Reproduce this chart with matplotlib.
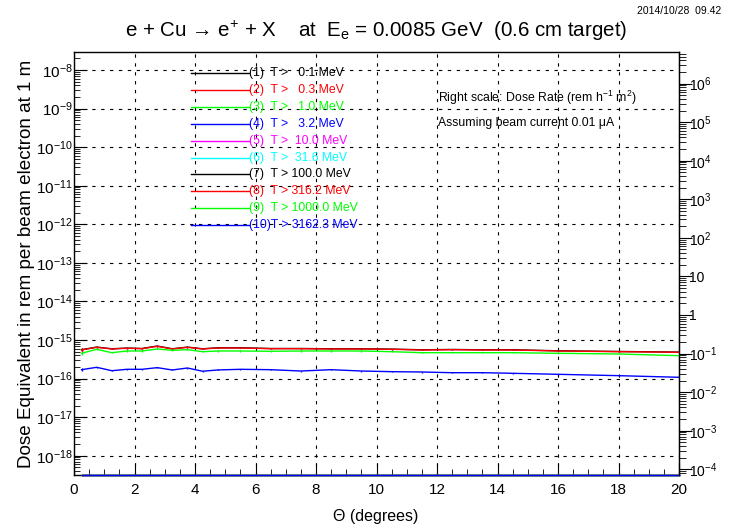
import numpy as np
import matplotlib
matplotlib.use("Agg")
from matplotlib import pyplot as plt
from matplotlib.ticker import FixedLocator, MultipleLocator, FuncFormatter, NullFormatter

plt.rcParams['font.family'] = ['Liberation Sans', 'DejaVu Sans']
plt.rcParams['mathtext.default'] = 'regular'

# angulos (centros de bin, grados)
theta = [0.25, 0.75, 1.25, 1.75, 2.25, 2.75, 3.25, 3.75, 4.25, 4.75,
         5.5, 6.5, 7.5, 8.5, 9.5, 10.5, 11.5, 12.5, 13.5, 14.5,
         16.0, 18.0, 20.0]

# dosis por electron (rem) para cada umbral
dose_01 = [5.60e-16, 6.55e-16, 5.92e-16, 6.18e-16, 6.02e-16, 6.98e-16, 5.92e-16, 6.55e-16,
           5.92e-16, 6.28e-16, 6.28e-16, 6.02e-16, 6.02e-16, 5.92e-16, 5.92e-16, 5.80e-16,
           5.58e-16, 5.68e-16, 5.58e-16, 5.58e-16, 5.25e-16, 5.04e-16, 4.86e-16]
dose_03 = [5.51e-16, 6.47e-16, 5.85e-16, 6.10e-16, 5.95e-16, 6.87e-16, 5.85e-16, 6.47e-16,
           5.85e-16, 6.21e-16, 6.21e-16, 5.95e-16, 5.95e-16, 5.85e-16, 5.85e-16, 5.74e-16,
           5.51e-16, 5.61e-16, 5.51e-16, 5.51e-16, 5.19e-16, 4.98e-16, 4.80e-16]
dose_10 = [4.52e-16, 5.74e-16, 4.69e-16, 5.19e-16, 5.19e-16, 5.85e-16, 5.41e-16, 5.61e-16,
           4.98e-16, 5.19e-16, 5.19e-16, 5.10e-16, 5.19e-16, 5.19e-16, 5.19e-16, 4.98e-16,
           4.69e-16, 4.69e-16, 4.69e-16, 4.69e-16, 4.52e-16, 4.34e-16, 3.92e-16]
dose_32 = [1.70e-16, 1.96e-16, 1.60e-16, 1.74e-16, 1.74e-16, 1.92e-16, 1.67e-16, 1.88e-16,
           1.55e-16, 1.67e-16, 1.74e-16, 1.70e-16, 1.57e-16, 1.70e-16, 1.57e-16, 1.51e-16,
           1.48e-16, 1.42e-16, 1.42e-16, 1.37e-16, 1.29e-16, 1.19e-16, 1.08e-16]
# umbrales altos: sin dosis
dose_zero = [0.0] * len(theta)

# errores relativos
rel_err = [0.10, 0.03, 0.03, 0.03, 0.03, 0.03, 0.03, 0.03, 0.03, 0.03, 0.03, 0.03,
           0.03, 0.03, 0.03, 0.03, 0.03, 0.03, 0.03, 0.03, 0.03, 0.03, 0.03]

thresholds = [0.1, 0.3, 1.0, 3.2, 10.0, 31.6, 100.0, 316.2, 1000.0, 3162.3]
colors = ['black', 'red', '#00ff00', 'blue', 'magenta', 'cyan',
          'black', 'red', '#00ff00', 'blue']
series = [dose_01, dose_03, dose_10, dose_32, dose_zero, dose_zero,
          dose_zero, dose_zero, dose_zero, dose_zero]

beam_current_uA = 0.01
e_charge = 1.602e-19
scale = beam_current_uA * 1e-6 / e_charge * 3600.0   # rem/e -> rem/h

ymin, ymax = 10**-18.5, 10**-7.533


def log_ticks(lo, hi):
    # decadas y subdivisiones dentro del rango
    n0, n1 = int(np.floor(np.log10(lo))), int(np.ceil(np.log10(hi)))
    major = [10.0**n for n in range(n0, n1 + 1) if lo <= 10.0**n <= hi]
    minor = [m * 10.0**n for n in range(n0, n1 + 1) for m in range(2, 10)
             if lo <= m * 10.0**n <= hi]
    return major, minor


fig = plt.figure(figsize=(7.34, 5.30), dpi=100)
ax = fig.add_axes([74/734, 1 - 475/530, 605/734, 423/530])

x = np.array(theta)
for vals, col in zip(series, colors):
    v = np.array(vals)
    if np.all(v <= 0):
        # como ROOT: ceros dibujados en el borde inferior
        ax.plot(x, np.full_like(x, ymin), color=col, lw=1.0, clip_on=False, zorder=3)
    else:
        err = v * np.array(rel_err)
        ax.errorbar(x, v, yerr=err, color=col, lw=1.0, elinewidth=1.0, capsize=0, zorder=3)

ax.set_yscale('log')
ax.set_xlim(0, 20)
ax.set_ylim(ymin, ymax)

ax.set_xticks(range(0, 21, 2))
ax.xaxis.set_minor_locator(MultipleLocator(0.5))
maj, mnr = log_ticks(ymin, ymax)
ax.yaxis.set_major_locator(FixedLocator(maj))
ax.yaxis.set_minor_locator(FixedLocator(mnr))
ax.yaxis.set_minor_formatter(NullFormatter())
ax.yaxis.set_major_formatter(FuncFormatter(lambda v, p: r'$10^{%d}$' % int(round(np.log10(v)))))

ax.tick_params(axis='both', which='both', direction='in', top=False, right=False)
ax.tick_params(axis='x', which='major', length=9, labelsize=11, pad=6)
ax.tick_params(axis='x', which='minor', length=4)
ax.tick_params(axis='y', which='major', length=9, labelsize=11, pad=1)
ax.tick_params(axis='y', which='minor', length=4.5)

ax.grid(True, which='major', color='black', lw=0.8, ls=(0, (3, 5)))

for s in ax.spines.values():
    s.set_linewidth(1.0)


# eje derecho: tasa de dosis
def right_fmt(v, p):
    n = int(round(np.log10(v)))
    if n == 0:
        return '1'
    if n == 1:
        return '10'
    return r'$10^{%d}$' % n


ax2 = ax.twinx()
ax2.set_yscale('log')
ax2.set_ylim(ymin * scale, ymax * scale)
maj2, mnr2 = log_ticks(ymin * scale, ymax * scale)
ax2.yaxis.set_major_locator(FixedLocator(maj2))
ax2.yaxis.set_minor_locator(FixedLocator(mnr2))
ax2.yaxis.set_minor_formatter(NullFormatter())
ax2.yaxis.set_major_formatter(FuncFormatter(right_fmt))
ax2.tick_params(axis='y', which='major', direction='out', length=9, labelsize=10, pad=-2)
ax2.tick_params(axis='y', which='minor', direction='out', length=5)
for k in ['top', 'bottom', 'left']:
    ax2.spines[k].set_visible(False)

# leyenda manual estilo ROOT
row0 = (475 - 73.3) / 423
drow = 16.85 / 423
for i, (t, col) in enumerate(zip(thresholds, colors)):
    y = row0 - i * drow
    ax.plot([0.193, 0.289], [y, y], color=col, lw=1.0, transform=ax.transAxes, zorder=4)
    if i + 1 < 10:
        lab = "(%d)  T > %5.1f MeV" % (i + 1, t)
    else:
        lab = "(%d)T > %5.1f MeV" % (i + 1, t)
    ax.text(0.289, y, lab, color=col, fontsize=8.8, va='center', ha='left',
            transform=ax.transAxes, zorder=4)

ax.text(0.601, (475 - 98.3) / 423, r'Right scale: Dose Rate (rem h$^{-1}$ m$^{2}$)',
        fontsize=8.8, va='center', ha='left', transform=ax.transAxes)
ax.text(0.601, (475 - 122.7) / 423, 'Assuming beam current 0.01 \u03bcA',
        fontsize=8.8, va='center', ha='left', transform=ax.transAxes)

fig.text(376 / 734, 1 - 31 / 530,
         'e + Cu \u2192 e$^{+}$ + X    at  E$_{e}$ = 0.0085 GeV  (0.6 cm target)',
         fontsize=14.8, ha='center', va='center')
fig.text(721 / 734, 1 - 11 / 530, '2014/10/28  09.42', fontsize=7.5, ha='right', va='center')
fig.text(27 / 734, 1 - 264 / 530, 'Dose Equivalent in rem per beam electron at 1 m',
         fontsize=13.6, rotation=90, ha='center', va='center')
fig.text(376 / 734, 1 - 517 / 530, '\u0398 (degrees)', fontsize=11.5, ha='center', va='center')

fig.savefig('out.png', dpi=100)
